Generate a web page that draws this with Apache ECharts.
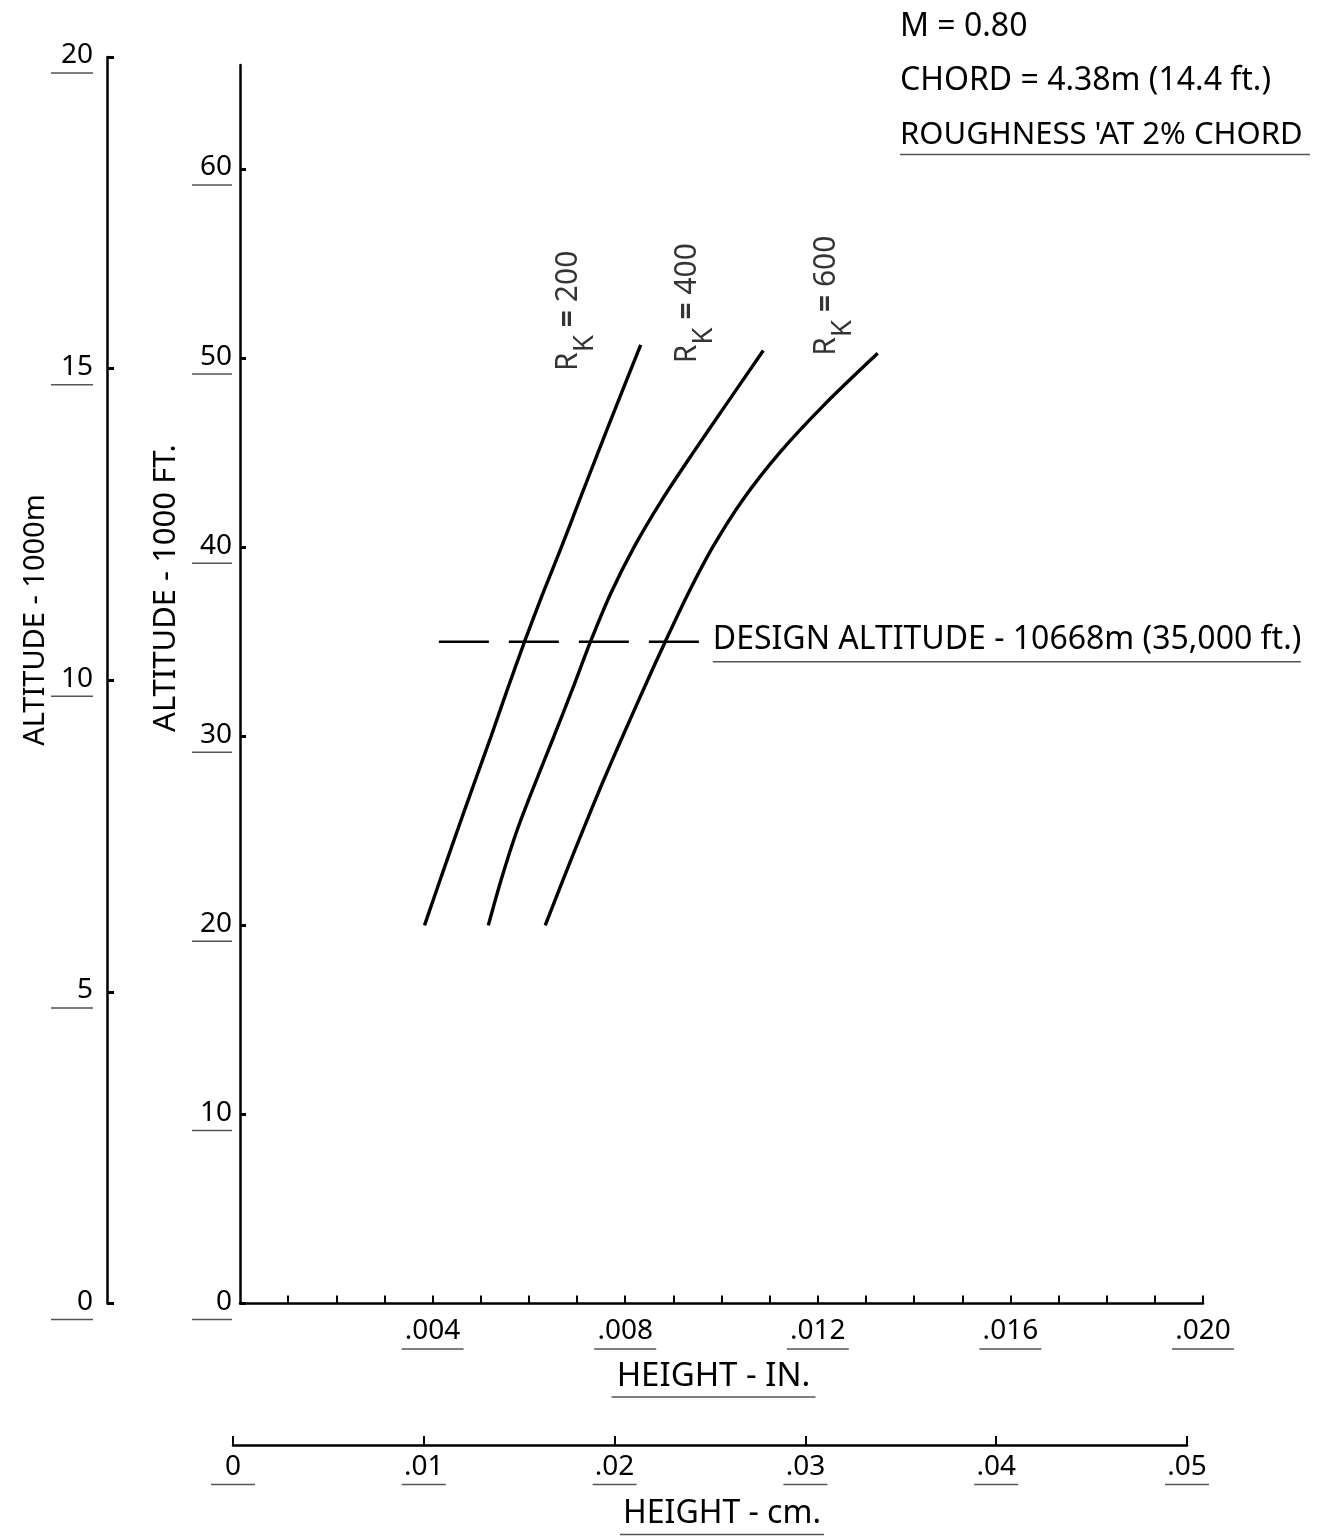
<!DOCTYPE html>
<html>
<head>
<meta charset="utf-8">
<title>Roughness height vs altitude</title>
<script src="https://cdn.jsdelivr.net/npm/echarts@6.0.0/dist/echarts.min.js"></script>
<style>
  html, body { margin: 0; padding: 0; background: #fff; }
  #chart { width: 1318px; height: 1539px; }
</style>
</head>
<body>
<div id="chart"></div>
<script>
// Allowable roughness height (inches) against altitude (1000 ft) for three roughness Reynolds numbers
const rk200Height = [0.003832, 0.004170, 0.004513, 0.004862, 0.005215, 0.005556, 0.005909,
                     0.006282, 0.006675, 0.007053, 0.007435, 0.007821, 0.008322];
const rk200Alt    = [20, 22.5, 25, 27.5, 30, 32.5, 35, 37.5, 40, 42.5, 45, 47.5, 50.7];

const rk400Height = [0.005157, 0.005435, 0.005751, 0.006127, 0.006521, 0.006906, 0.007279,
                     0.007690, 0.008183, 0.008764, 0.009412, 0.010083, 0.010868];
const rk400Alt    = [20, 22.5, 25, 27.5, 30, 32.5, 35, 37.5, 40, 42.5, 45, 47.5, 50.4];

const rk600Height = [0.006339, 0.006723, 0.007117, 0.007522, 0.007948, 0.008384, 0.008831,
                     0.009298, 0.009817, 0.010440, 0.011209, 0.012122, 0.013244];
const rk600Alt    = [20, 22.5, 25, 27.5, 30, 32.5, 35, 37.5, 40, 42.5, 45, 47.5, 50.25];

const rkNames = ['200', '400', '600'];

// design altitude marker
const designAltitudeFt = 35;
const designLineHeights = [0.00413, 0.00957];

// axis ticks and labels
const inchTickValues = [0.001, 0.002, 0.003, 0.004, 0.005, 0.006, 0.007, 0.008, 0.009, 0.010,
                        0.011, 0.012, 0.013, 0.014, 0.015, 0.016, 0.017, 0.018, 0.019, 0.020];
const inchLabelValues = [0.004, 0.008, 0.012, 0.016, 0.020];
const inchTickLabels  = ['.004', '.008', '.012', '.016', '.020'];
const ftTickValues    = [0, 10, 20, 30, 40, 50, 60];
const ftTickLabels    = ['0', '10', '20', '30', '40', '50', '60'];
const meterTickValues = [0, 5, 10, 15, 20];
const meterTickLabels = ['0', '5', '10', '15', '20'];
const cmTickValues    = [0, 0.01, 0.02, 0.03, 0.04, 0.05];
const cmTickLabels    = ['0', '.01', '.02', '.03', '.04', '.05'];

const INK = '#000';
const FONT = '"Noto Sans", "DejaVu Sans", sans-serif';

const zip = (xs, ys) => xs.map((x, i) => [x, ys[i]]);

function underline(w) {
  return { width: w, height: 1.5, lineHeight: 3, backgroundColor: '#555' };
}
function tickText(size) {
  return { fontSize: size, fontFamily: FONT, color: INK, lineHeight: 32 };
}
function labelFormatter(values, labels) {
  return function (v) {
    const i = values.findIndex(t => Math.abs(t - v) < 1e-9);
    return i < 0 ? '' : '{v|' + labels[i] + '}\n{u| }';
  };
}

const chart = echarts.init(document.getElementById('chart'), null, { renderer: 'canvas' });

const curveStyle = { color: '#000', width: 3.4 };

function curveSeries(name, heights, alts) {
  return {
    name: name,
    type: 'line',
    xAxisIndex: 0,
    yAxisIndex: 0,
    data: zip(heights, alts),
    smooth: 0.3,
    showSymbol: false,
    symbol: 'none',
    lineStyle: curveStyle,
    silent: true
  };
}

const rkLabelRich = {
  r: { fontSize: 30, fontFamily: FONT, color: INK },
  k: { fontSize: 28, fontFamily: FONT, color: INK, padding: [32, 0, 0, 0] },
  e: { fontSize: 30, fontFamily: FONT, color: INK, fontWeight: 'bold' }
};

const axisNameRich = (size, w) => ({
  t: { fontSize: size, fontFamily: FONT, color: INK, lineHeight: 38 },
  u: underline(w)
});

const option = {
  animation: false,
  backgroundColor: '#fff',
  grid: [
    { left: 240, right: 115, top: 65, bottom: 235.5, outerBoundsMode: 'none' },
    { left: 107, width: 1, top: 57, bottom: 235.5, outerBoundsMode: 'none' },
    { left: 233, right: 131, top: 1440, height: 5, outerBoundsMode: 'none' }
  ],
  xAxis: [
    {
      gridIndex: 0, type: 'value', min: 0, max: 0.02,
      axisLine: { show: true, onZero: false, lineStyle: { color: INK, width: 2.5 } },
      axisTick: { show: true, inside: true, length: 8, customValues: inchTickValues, lineStyle: { color: INK, width: 2 } },
      axisLabel: {
        show: true, customValues: inchLabelValues, margin: 12,
        formatter: labelFormatter(inchLabelValues, inchTickLabels),
        rich: { v: tickText(28), u: underline(62) }
      },
      splitLine: { show: false },
      name: '{t|HEIGHT - IN.}\n{u| }',
      nameLocation: 'middle', nameGap: 48,
      nameTextStyle: { padding: [0, 16, 0, 0], rich: axisNameRich(33, 204) }
    },
    { gridIndex: 1, type: 'value', min: 0, max: 1, show: false },
    {
      gridIndex: 2, type: 'value', min: 0, max: 0.05,
      axisLine: { show: true, onZero: false, lineStyle: { color: INK, width: 2.5 } },
      axisTick: { show: true, inside: true, length: 9, customValues: cmTickValues, lineStyle: { color: INK, width: 2 } },
      axisLabel: {
        show: true, customValues: cmTickValues, margin: 6,
        formatter: labelFormatter(cmTickValues, cmTickLabels),
        rich: { v: tickText(28), u: underline(44) }
      },
      splitLine: { show: false },
      name: '{t|HEIGHT - cm.}\n{u| }',
      nameLocation: 'middle', nameGap: 50,
      nameTextStyle: { padding: [0, 0, 0, 24], rich: axisNameRich(32, 204) }
    }
  ],
  yAxis: [
    {
      gridIndex: 0, type: 'value', min: 0, max: 65.5,
      axisLine: { show: true, onZero: false, lineStyle: { color: INK, width: 2.5 } },
      axisTick: { show: true, inside: true, length: 6, customValues: ftTickValues, lineStyle: { color: INK, width: 3 } },
      axisLabel: {
        show: true, customValues: ftTickValues, margin: 8,
        formatter: labelFormatter(ftTickValues, ftTickLabels),
        rich: { v: tickText(28), u: underline(40) }
      },
      splitLine: { show: false }
    },
    {
      gridIndex: 1, type: 'value', min: 0, max: 20,
      axisLine: { show: true, onZero: false, lineStyle: { color: INK, width: 2.5 } },
      axisTick: { show: true, inside: true, length: 7, customValues: meterTickValues, lineStyle: { color: INK, width: 3 } },
      axisLabel: {
        show: true, customValues: meterTickValues, margin: 14,
        formatter: labelFormatter(meterTickValues, meterTickLabels),
        rich: { v: tickText(28), u: underline(42) }
      },
      splitLine: { show: false }
    },
    { gridIndex: 2, type: 'value', min: 0, max: 1, show: false }
  ],
  series: [
    curveSeries('R_K = 200', rk200Height, rk200Alt),
    curveSeries('R_K = 400', rk400Height, rk400Alt),
    curveSeries('R_K = 600', rk600Height, rk600Alt),
    {
      name: 'design altitude',
      type: 'line',
      xAxisIndex: 0, yAxisIndex: 0,
      data: designLineHeights.map(h => [h, designAltitudeFt]),
      showSymbol: false, symbol: 'none',
      lineStyle: { color: '#000', width: 2.5, type: [50, 20] },
      endLabel: {
        show: true, distance: 12, color: INK,
        formatter: '{t|DESIGN ALTITUDE - 10668m (35,000 ft.)}\n{u| }',
        rich: {
          t: { fontSize: 32, fontFamily: FONT, color: INK, lineHeight: 40 },
          u: underline(588)
        }
      },
      silent: true
    },
    {
      name: 'curve labels',
      type: 'scatter',
      xAxisIndex: 0, yAxisIndex: 0,
      symbolSize: 0,
      itemStyle: { color: '#000' },
      data: [
        { value: [0.00683, 52.5], name: rkNames[0] },
        { value: [0.00930, 52.9], name: rkNames[1] },
        { value: [0.01219, 53.3], name: rkNames[2] }
      ],
      label: {
        show: true, position: 'inside', rotate: 90, color: INK,
        formatter: p => '{r|R}{k|K}{e| = }{r|' + p.name + '}',
        rich: rkLabelRich
      },
      silent: true
    }
  ],
  graphic: [
    {
      type: 'text', x: 36, y: 620, rotation: Math.PI / 2,
      style: { text: 'ALTITUDE - 1000m', fontSize: 29, fontFamily: FONT, fill: INK, align: 'center', verticalAlign: 'middle' }
    },
    {
      type: 'text', x: 166, y: 588, rotation: Math.PI / 2,
      style: { text: 'ALTITUDE - 1000 FT.', fontSize: 31, fontFamily: FONT, fill: INK, align: 'center', verticalAlign: 'middle' }
    },
    {
      type: 'text', x: 900, y: 27,
      style: { text: 'M = 0.80', fontSize: 32, fontFamily: FONT, fill: INK, align: 'left', verticalAlign: 'middle' }
    },
    {
      type: 'text', x: 900, y: 81,
      style: { text: 'CHORD = 4.38m (14.4 ft.)', fontSize: 32, fontFamily: FONT, fill: INK, align: 'left', verticalAlign: 'middle' }
    },
    {
      type: 'text', x: 900, y: 117,
      style: {
        text: "{t|ROUGHNESS 'AT 2% CHORD}\n{u| }", fill: INK, align: 'left', verticalAlign: 'top',
        rich: { t: { fontSize: 31, fontFamily: FONT, color: INK, lineHeight: 36 }, u: underline(410) }
      }
    }
  ]
};

chart.setOption(option);
</script>
</body>
</html>
